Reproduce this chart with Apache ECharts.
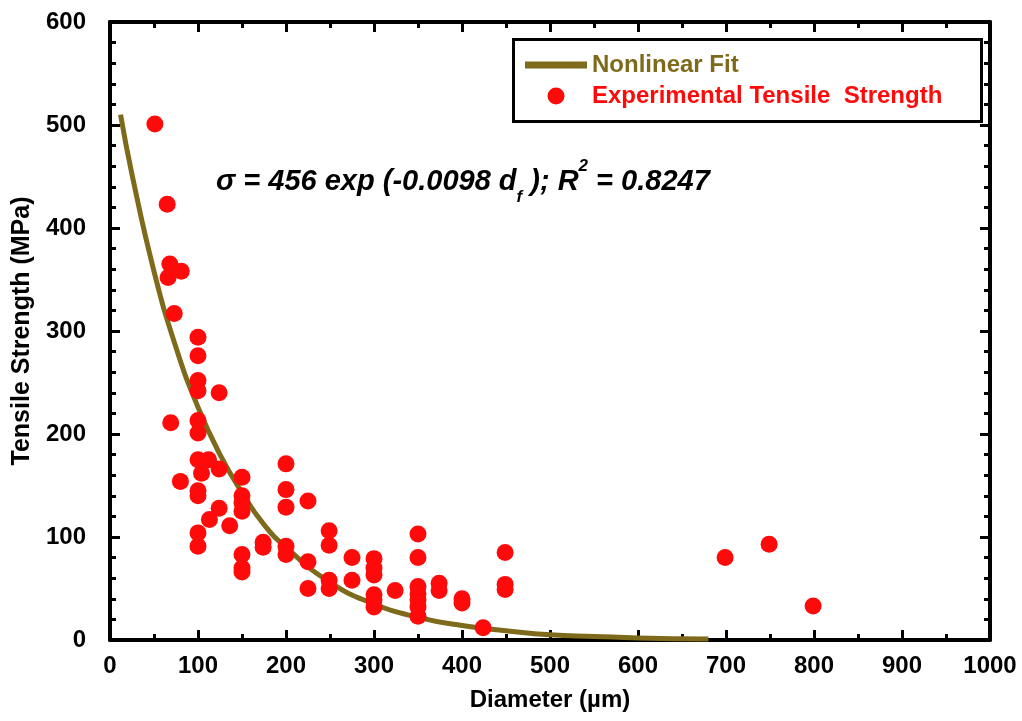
<!DOCTYPE html>
<html>
<head>
<meta charset="utf-8">
<script src="https://cdn.jsdelivr.net/npm/echarts@6/dist/echarts.min.js"></script>
<style>html,body{margin:0;padding:0;background:#fff}#c{width:1022px;height:721px}</style>
</head>
<body>
<div id="c"></div>
<script>
// Experimental tensile strength points: diameter (µm) and strength (MPa)
const expD = [51, 65, 68, 81, 66, 73, 100, 100, 100, 100, 124, 69, 100, 100, 100, 112, 104, 124, 80, 100, 100,
  150, 150, 150, 150, 124, 113, 136, 100, 100, 150, 150, 150, 174, 174,
  200, 200, 200, 200, 200, 225, 225, 225, 249, 249, 249, 249, 275, 275,
  300, 300, 300, 300, 300, 300, 324, 350, 350, 350, 350, 350, 350, 350,
  374, 374, 400, 400, 424, 449, 449, 449, 699, 749, 799];
const expS = [501, 423, 365, 358, 352, 317, 294, 276, 252, 242, 240, 211, 213, 201, 175, 175, 162, 166, 154, 145, 140,
  158, 140, 133, 125, 128, 117, 111, 104, 91, 83, 70, 66, 95, 90,
  171, 146, 129, 91, 83, 135, 76, 50, 106, 92, 58, 50, 80, 58,
  79, 70, 63, 44, 39, 32, 48, 103, 80, 52, 45, 39, 32, 23,
  55, 48, 40, 36, 12, 85, 54, 49, 80, 93, 33];
// Nonlinear fit curve
const fitD = [12, 25, 50, 75, 100, 125, 150, 175, 200, 250, 300, 350, 400, 450, 500, 550, 600, 680];
const fitS = [510, 452, 358, 284, 226, 180, 143, 112, 90, 56, 35, 22, 14, 9, 5, 3.5, 2, 1];
const xTicks = [0, 100, 200, 300, 400, 500, 600, 700, 800, 900, 1000];
const yTicks = [0, 100, 200, 300, 400, 500, 600];

const FIT_COLOR = '#7d6a1a';
const PT_COLOR = '#ff0a0a';
const FONT = 'Liberation Sans, Arial, sans-serif';
const tickFont = {fontFamily: FONT, fontWeight: 'bold', fontSize: 24, color: '#000', formatter: (v) => String(v)};
const axisLine = {show: true, onZero: false, lineStyle: {color: '#000', width: 4}};
const tick = {show: true, inside: true, length: 10, lineStyle: {color: '#000', width: 3}};
const minor = (n) => ({show: true, splitNumber: n, length: 6, lineStyle: {color: '#000', width: 3}});

const chart = echarts.init(document.getElementById('c'), null, {renderer: 'canvas'});
chart.setOption({
  backgroundColor: '#fff',
  animation: false,
  grid: {left: 110, right: 32, top: 22, bottom: 81, containLabel: false},
  xAxis: [{
    type: 'value', min: xTicks[0], max: xTicks[xTicks.length - 1], interval: 100,
    position: 'bottom',
    name: 'Diameter (\u00b5m)', nameLocation: 'middle', nameGap: 48,
    nameTextStyle: {fontFamily: FONT, fontWeight: 'bold', fontSize: 24, color: '#000'},
    axisLine: axisLine, axisTick: tick, minorTick: minor(2),
    axisLabel: Object.assign({margin: 14}, tickFont),
    splitLine: {show: false}
  }, {
    type: 'value', min: xTicks[0], max: xTicks[xTicks.length - 1], interval: 100,
    position: 'top',
    axisLine: axisLine, axisTick: tick, minorTick: minor(2),
    axisLabel: {show: false}, splitLine: {show: false}
  }],
  yAxis: [{
    type: 'value', min: yTicks[0], max: yTicks[yTicks.length - 1], interval: 100,
    position: 'left',
    name: 'Tensile Strength (MPa)', nameLocation: 'middle', nameGap: 74, nameRotate: 90,
    nameTextStyle: {fontFamily: FONT, fontWeight: 'bold', fontSize: 25, color: '#000'},
    axisLine: axisLine, axisTick: tick, minorTick: minor(5),
    axisLabel: Object.assign({margin: 24}, tickFont),
    splitLine: {show: false}
  }, {
    type: 'value', min: yTicks[0], max: yTicks[yTicks.length - 1], interval: 100,
    position: 'right',
    axisLine: axisLine, axisTick: tick, minorTick: minor(5),
    axisLabel: {show: false}, splitLine: {show: false}
  }],
  legend: {
    orient: 'vertical', left: 520, top: 48, itemWidth: 62, itemHeight: 17, itemGap: 7,
    textStyle: {fontFamily: FONT, fontWeight: 'bold', fontSize: 24},
    data: [
      {name: 'Nonlinear Fit', icon: 'path://M0,0H62V7H0Z', itemStyle: {color: FIT_COLOR}, textStyle: {color: FIT_COLOR}},
      {name: 'Experimental Tensile  Strength', icon: 'circle', textStyle: {color: PT_COLOR}}
    ],
    z: 10
  },
  graphic: [
    {type: 'rect', left: 512, top: 38, shape: {width: 468, height: 82},
     style: {fill: '#fff', stroke: '#000', lineWidth: 3}, z: 5},
    {type: 'text', left: 216, top: 158, z: 6,
     style: {
       text: '{m|\u03c3 = 456 exp (-0.0098 d}{s|f}{m| ); R}{p|2}{m| = 0.8247}',
       rich: {
         m: {fontFamily: FONT, fontWeight: 'bold', fontStyle: 'italic', fontSize: 29, lineHeight: 48, verticalAlign: 'middle', fill: '#000'},
         s: {fontFamily: FONT, fontWeight: 'bold', fontStyle: 'italic', fontSize: 17, verticalAlign: 'bottom', fill: '#000'},
         p: {fontFamily: FONT, fontWeight: 'bold', fontStyle: 'italic', fontSize: 17, verticalAlign: 'top', fill: '#000'}
       }
     }}
  ],
  series: [{
    name: 'Nonlinear Fit', type: 'line', xAxisIndex: 0, yAxisIndex: 0,
    data: fitD.map((d, i) => [d, fitS[i]]),
    smooth: true, symbol: 'none', showSymbol: false,
    lineStyle: {color: FIT_COLOR, width: 5}, itemStyle: {color: FIT_COLOR}, z: 2
  }, {
    name: 'Experimental Tensile  Strength', type: 'scatter', xAxisIndex: 0, yAxisIndex: 0,
    data: expD.map((d, i) => [d, expS[i]]),
    symbol: 'circle', symbolSize: 17,
    itemStyle: {color: PT_COLOR, opacity: 1}, z: 3
  }]
});
</script>
</body>
</html>
